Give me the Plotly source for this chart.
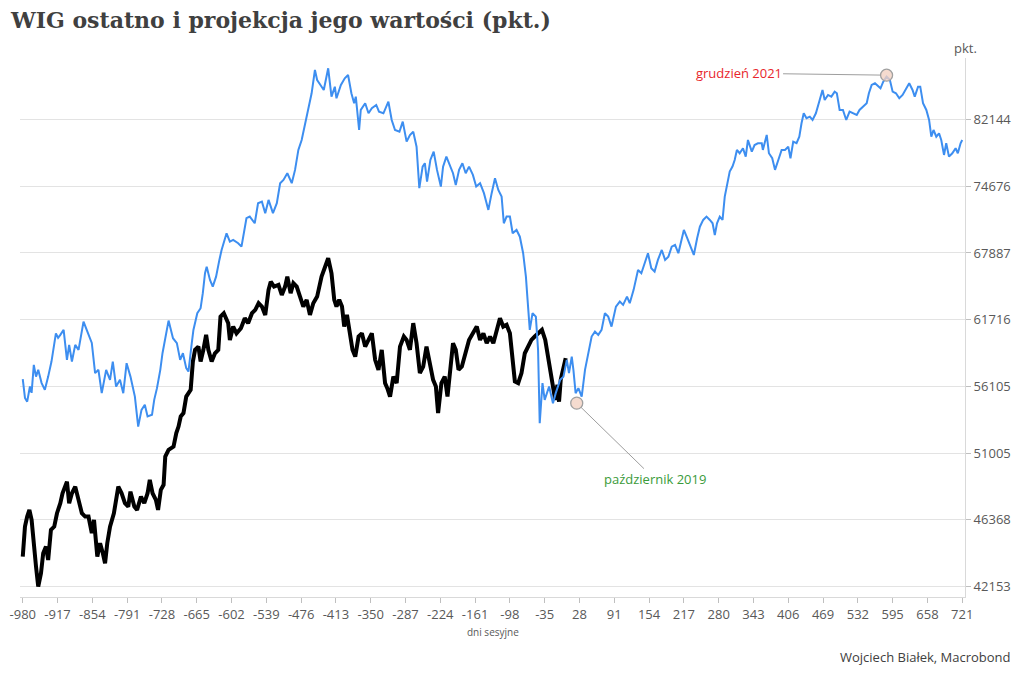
import math
import plotly.graph_objects as go

# ---- data ----
blue_x = [-980,-976,-972,-967,-964,-960,-956,-952,-946,-940,
          -934,-928,-920,-916,-912,-906,-900,-896,-891,-885,
          -879,-870,-863,-855,-849,-843,-837,-829,-822,-817,
          -811,-804,-798,-792,-785,-777,-771,-765,-759,-754,
          -746,-742,-737,-731,-727,-722,-716,-708,-701,-695,
          -690,-684,-680,-674,-671,-664,-658,-654,-650,-647,
          -641,-636,-630,-624,-620,-611,-605,-599,-590,-584,
          -575,-569,-560,-554,-547,-541,-535,-527,-520,-514,
          -508,-501,-493,-487,-481,-475,-469,-463,-457,-451,
          -447,-441,-435,-427,-421,-415,-412,-404,-397,-391,
          -385,-380,-377,-371,-368,-360,-354,-348,-340,-335,
          -327,-318,-312,-306,-298,-292,-285,-279,-273,-267,
          -262,-256,-252,-248,-242,-236,-230,-223,-219,-213,
          -205,-201,-196,-190,-184,-178,-172,-165,-159,-152,
          -145,-137,-131,-125,-119,-113,-109,-104,-98,-93,
          -86,-80,-74,-69,-66,-62,-57,-51,-47,-44,
          -39,-35,-27,-20,-15,-7,-1,5,9,14,
          17,21,26,32,38,44,50,56,62,68,
          74,80,86,94,101,107,114,119,126,134,
          140,146,152,158,164,170,177,183,189,195,
          201,207,213,217,222,228,235,241,246,252,
          258,264,269,273,277,282,287,291,295,300,
          305,309,313,318,324,329,333,340,345,351,
          358,360,367,371,377,382,388,394,400,406,
          410,415,421,426,430,434,439,445,450,456,
          462,468,472,478,484,490,494,499,505,511,
          517,523,530,535,541,548,552,557,563,569,
          573,578,584,590,595,601,607,613,619,625,
          631,635,641,645,650,656,661,665,669,674,
          679,683,688,692,697,703,709,713,718,721]
blue_y = [56690,55192,54895,56100,55592,57860,56898,57452,56393,55833,
          56898,58136,60527,60130,60389,60821,58277,59538,58136,59538,
          59115,61549,60673,59704,57182,57452,55568,57452,56636,58136,
          56097,56636,55568,58001,56898,55297,52979,54259,54652,53746,
          53878,55039,55969,57452,58828,59957,61637,60105,59680,58277,
          58828,57592,57311,59680,60821,62291,62735,64098,65946,66570,
          65321,64703,65627,67215,68178,69822,68994,69156,68831,68499,
          71340,71502,70830,72884,73048,71853,73227,71853,72884,74996,
          75349,76072,74996,76438,78648,79770,81699,83656,85274,88157,
          86908,86292,85676,88371,84863,86079,84666,86292,87122,87533,
          85274,84066,84863,80922,83270,84066,82873,83467,83861,83060,
          82873,84255,82085,80922,80723,81886,79581,80345,80723,79014,
          74463,76797,77170,75167,77529,78455,76438,74640,76797,77902,
          76797,76072,74815,76438,77170,76072,76797,75893,74640,74996,
          73937,72189,73937,75533,74283,73578,70827,71502,71502,69822,
          70154,69482,67858,65627,63487,60821,62291,61990,59115,53234,
          56369,55039,56097,54781,55568,56636,56898,58277,57182,58551,
          57452,55568,55969,55297,57452,58828,60247,60673,60389,60821,
          62291,61990,61110,62882,63333,63037,63784,63183,64401,66258,
          65946,66896,67858,66421,66102,67215,68178,67215,67529,68499,
          68665,67858,69156,70154,69482,68665,67693,69326,70480,71166,
          71502,71166,70827,69652,70827,71502,71166,73578,74640,76252,
          76797,77529,78648,78275,78833,77897,79770,78456,79203,79400,
          79400,78645,80345,78275,77716,76438,77529,78648,78648,79014,
          77716,79581,79400,80148,81699,82873,82285,82473,82085,82873,
          84255,85676,84461,85068,84863,85471,85274,83270,83270,82085,
          83060,82873,82673,83270,83656,84066,85274,86292,86498,86079,
          85881,86695,87319,86908,85471,85274,84666,85068,85881,86498,
          85676,84863,86079,86079,84066,83270,82085,80148,80922,80148,
          80542,79770,78086,79400,77897,78275,78833,78275,79400,79770]

black_x = [-980,-976,-972,-968,-964,-961,-956,-952,-947,-943,
           -938,-934,-929,-923,-918,-912,-908,-900,-896,-891,
           -885,-879,-873,-867,-861,-855,-851,-845,-840,-835,
           -831,-827,-822,-815,-807,-801,-795,-789,-785,-778,
           -773,-766,-760,-754,-750,-745,-739,-735,-730,-725,
           -722,-716,-707,-702,-698,-694,-689,-684,-680,-676,
           -672,-668,-662,-658,-653,-648,-644,-638,-632,-626,
           -622,-616,-608,-605,-599,-593,-585,-578,-572,-565,
           -559,-553,-547,-541,-535,-531,-525,-517,-511,-505,
           -501,-495,-490,-484,-478,-472,-466,-460,-454,-447,
           -439,-433,-427,-421,-416,-412,-407,-402,-398,-393,
           -389,-383,-378,-372,-366,-360,-354,-348,-342,-336,
           -330,-324,-320,-315,-309,-303,-297,-290,-285,-279,
           -273,-267,-261,-255,-249,-243,-237,-232,-228,-222,
           -216,-211,-205,-201,-196,-191,-185,-178,-172,-165,
           -158,-152,-146,-140,-134,-128,-122,-116,-110,-104,
           -98,-93,-89,-83,-77,-71,-65,-59,-53,-47,
           -40,-34,-28,-24,-19,-16,-12,-9,-6,-1,
           3]
black_y = [43995,45928,46587,47036,46368,45061,43375,42153,42967,44210,
           44634,43789,45710,45928,46812,47486,48167,48974,47486,48167,
           48626,47713,46812,46587,46587,45496,46368,43995,44852,44210,
           43586,44852,45928,46812,48626,48167,47486,47258,48278,47258,
           47036,47935,47486,48167,49097,48167,47713,47036,48404,48751,
           50758,51245,51486,52484,52979,53749,54007,55297,55568,55833,
           58136,59115,59389,58136,59115,60389,59115,58136,58828,59115,
           61990,62291,61408,59957,61110,60527,60971,61848,61408,62291,
           62586,63183,62882,62140,64401,65158,64703,64859,63938,64703,
           65627,64098,65015,64703,63784,62882,63487,62140,63183,63784,
           65627,66570,67376,65946,63487,62882,63487,62882,61110,62140,
           60821,59115,58551,60247,60527,59389,59957,60527,58277,57452,
           59115,56369,55969,55297,56898,56369,59389,60247,59957,59115,
           61408,59680,57182,57721,59389,58001,56636,56097,54007,56369,
           56898,55297,58277,59680,59115,57452,57721,58828,59957,60527,
           61110,59957,60527,59680,60247,59680,60821,61848,61110,61263,
           60527,58277,56497,56369,57182,58828,59389,59957,60247,60527,
           60821,59957,58277,56795,55672,55039,56233,54895,56636,57452,
           58417]

x_ticks = list(range(-980, 722, 63))
y_ticks = [42153, 46368, 51005, 56105, 61716, 67887, 74676, 82144]

mark_x = [23, 584]
mark_y = [54781, 87508]
mark_labels = ["październik 2019", "grudzień 2021"]

TICK_FONT = dict(family="Open Sans", size=13, color="#595959")

fig = go.Figure()
fig.add_trace(go.Scatter(x=black_x, y=black_y, mode="lines",
                         line=dict(color="#000000", width=4),
                         hoverinfo="skip", showlegend=False))
fig.add_trace(go.Scatter(x=blue_x, y=blue_y, mode="lines",
                         line=dict(color="#3d8ef0", width=2),
                         hoverinfo="skip", showlegend=False))
fig.add_trace(go.Scatter(x=mark_x, y=mark_y, mode="markers",
                         marker=dict(size=12, color="rgba(243,210,195,0.8)",
                                     line=dict(color="#a0a0a0", width=1.3)),
                         hoverinfo="skip", showlegend=False))

fig.update_layout(
    width=1024, height=678,
    margin=dict(l=20, r=59, t=58, b=81),
    paper_bgcolor="white", plot_bgcolor="white",
    xaxis=dict(range=[-985, 726], tickmode="array", tickvals=x_ticks,
               ticktext=[str(v) for v in x_ticks], automargin=False,
               showgrid=False, zeroline=False, showline=True,
               linecolor="#d9d9d9", linewidth=1,
               ticks="outside", ticklen=5, tickcolor="#bfbfbf",
               tickfont=TICK_FONT),
    yaxis=dict(type="log", range=[4.6184, 4.9527], side="right",
               tickmode="array", tickvals=y_ticks, automargin=False,
               ticktext=[str(v) for v in y_ticks],
               showgrid=True, gridcolor="#e3e3e3", gridwidth=1,
               zeroline=False, showline=True, linecolor="#d9d9d9",
               ticks="outside", ticklen=5, tickcolor="#bfbfbf",
               tickfont=TICK_FONT),
)

anns = [
    dict(text="<b>WIG ostatno i projekcja jego wartości (pkt.)</b>",
         xref="paper", yref="paper", x=-0.0127, y=1.0705,
         xanchor="left", yanchor="middle", showarrow=False,
         font=dict(family="DejaVu Serif", size=22, color="#404040")),
    dict(text="pkt.", xref="paper", yref="paper", x=1.0, y=1.0186,
         xanchor="center", yanchor="middle", showarrow=False,
         font=dict(family="Open Sans", size=13, color="#595959")),
    dict(text="dni sesyjne", xref="paper", yref="paper", x=0.5, y=-0.065,
         xanchor="center", yanchor="middle", showarrow=False,
         font=dict(family="Open Sans", size=10, color="#595959")),
    dict(text="Wojciech Białek, Macrobond", xref="paper", yref="paper",
         x=1.0508, y=-0.1113, xanchor="right", yanchor="middle",
         showarrow=False,
         font=dict(family="Open Sans", size=13, color="#404040")),
    dict(text=mark_labels[0], x=mark_x[0], y=math.log10(mark_y[0]),
         xref="x", yref="y", showarrow=True, arrowhead=0, arrowwidth=1,
         arrowcolor="#9e9e9e", ax=78, ay=76, standoff=6,
         font=dict(family="Open Sans", size=13, color="#3a9b3a")),
    dict(text=mark_labels[1], x=mark_x[1], y=math.log10(mark_y[1]),
         xref="x", yref="y", showarrow=True, arrowhead=0, arrowwidth=1,
         arrowcolor="#9e9e9e", ax=-148, ay=-2, standoff=6,
         font=dict(family="Open Sans", size=13, color="#e8262b")),
]
fig.update_layout(annotations=anns)

fig.write_html("out.html", config={"displayModeBar": False})

# remove the default page margin so the figure sits at the window origin
with open("out.html", "r", encoding="utf-8") as fh:
    page = fh.read()
page = page.replace("<head>", "<head><style>html,body{margin:0;padding:0;}</style>", 1)
with open("out.html", "w", encoding="utf-8") as fh:
    fh.write(page)
